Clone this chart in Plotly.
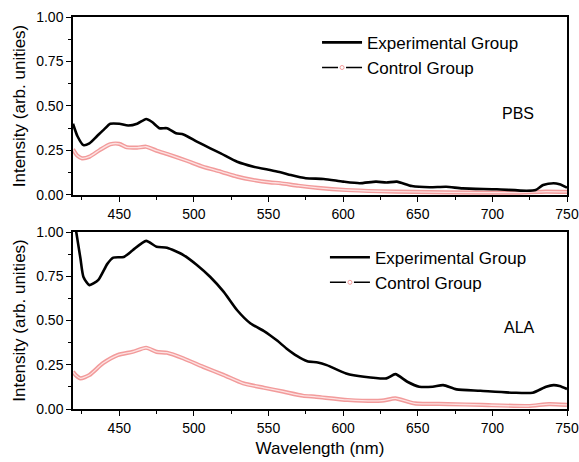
import plotly.graph_objects as go

# ---- PBS panel data ----
pbs_exp_wl = [419, 422, 426, 430, 435, 440, 444, 450, 456, 462, 468, 472, 477, 482, 488, 493,
              502, 511, 518, 529, 540, 551, 558, 565, 575, 587, 600, 611, 622, 629, 636, 646,
              658, 669, 680, 703, 723, 729, 734, 741, 745, 750]
pbs_exp_val = [0.40, 0.33, 0.28, 0.29, 0.33, 0.37, 0.40, 0.40, 0.39, 0.40, 0.427, 0.41, 0.375, 0.375, 0.347, 0.34,
               0.30, 0.262, 0.234, 0.187, 0.159, 0.14, 0.128, 0.112, 0.094, 0.09, 0.075, 0.066, 0.075, 0.07, 0.075, 0.05,
               0.043, 0.046, 0.037, 0.032, 0.024, 0.028, 0.056, 0.066, 0.06, 0.041]

pbs_ctl_wl = [419, 422, 425, 430, 437, 444, 450, 455, 462, 468, 475, 484, 495, 506, 518, 529,
              540, 551, 558, 570, 583, 602, 624, 647, 669, 714, 736, 750]
pbs_ctl_val = [0.257, 0.22, 0.206, 0.215, 0.253, 0.285, 0.287, 0.268, 0.266, 0.271, 0.249, 0.225, 0.193, 0.159, 0.131, 0.103,
               0.084, 0.071, 0.066, 0.052, 0.04, 0.028, 0.021, 0.017, 0.015, 0.013, 0.019, 0.017]

# ---- ALA panel data ----
ala_exp_wl = [419, 421, 424, 426, 430, 436, 442, 446, 453, 459, 468, 475, 482, 493, 502, 511,
              520, 529, 538, 547, 551, 556, 562, 569, 576, 583, 589, 602, 614, 629, 635, 643,
              651, 660, 667, 676, 692, 714, 727, 736, 741, 745, 750]
ala_exp_val = [1.12, 1.01, 0.85, 0.746, 0.70, 0.73, 0.82, 0.855, 0.859, 0.897, 0.95, 0.917, 0.911, 0.87, 0.814, 0.746,
               0.662, 0.558, 0.483, 0.44, 0.417, 0.385, 0.342, 0.30, 0.27, 0.263, 0.248, 0.201, 0.182, 0.173, 0.197, 0.154,
               0.126, 0.126, 0.135, 0.111, 0.103, 0.092, 0.092, 0.126, 0.135, 0.13, 0.113]

ala_ctl_wl = [419, 421, 424, 430, 439, 449, 459, 468, 475, 482, 493, 506, 520, 533, 547, 560,
              573, 582, 603, 626, 635, 648, 670, 693, 724, 738, 750]
ala_ctl_val = [0.21, 0.19, 0.173, 0.192, 0.258, 0.305, 0.323, 0.346, 0.323, 0.318, 0.286, 0.239, 0.192, 0.145, 0.12, 0.098,
               0.075, 0.069, 0.051, 0.047, 0.06, 0.032, 0.028, 0.023, 0.017, 0.028, 0.023]

series_names = ["Experimental Group", "Control Group"]
panel_labels = ["PBS", "ALA"]
x_title = "Wavelength (nm)"
y_title = "Intensity (arb. unities)"

FONT = "Liberation Sans, Arial, sans-serif"
PINK = "rgb(242,155,155)"
PINK_IN = "rgb(253,226,226)"

fig = go.Figure()

def add_panel(xa, ya, ew, ev, cw, cv, legend):
    fig.add_trace(go.Scatter(x=cw, y=cv, mode="lines", xaxis=xa, yaxis=ya,
                             line=dict(color=PINK, width=4.2, shape="spline", smoothing=0.6),
                             showlegend=False, hoverinfo="skip"))
    fig.add_trace(go.Scatter(x=cw, y=cv, mode="lines", xaxis=xa, yaxis=ya,
                             line=dict(color=PINK_IN, width=1.3, shape="spline", smoothing=0.6),
                             showlegend=False, hoverinfo="skip"))
    fig.add_trace(go.Scatter(x=ew, y=ev, mode="lines", xaxis=xa, yaxis=ya, name=series_names[0],
                             line=dict(color="black", width=2.6, shape="spline", smoothing=0.6),
                             legend=legend, showlegend=True))
    # legend entry for control group (Origin-style symbol)
    fig.add_trace(go.Scatter(x=[None], y=[None], mode="lines+markers", xaxis=xa, yaxis=ya,
                             name=series_names[1], legend=legend, showlegend=True,
                             line=dict(color="black", width=1.5, dash="16px,8px"),
                             marker=dict(symbol="circle-open", size=4, color=PINK, line=dict(width=1))))

add_panel("x", "y", pbs_exp_wl, pbs_exp_val, pbs_ctl_wl, pbs_ctl_val, "legend")
add_panel("x2", "y2", ala_exp_wl, ala_exp_val, ala_ctl_wl, ala_ctl_val, "legend2")

def xaxis(anchor, title=None):
    d = dict(range=[419, 750], tick0=450, dtick=50, ticks="outside", ticklen=5, tickwidth=1.3,
             tickcolor="black", showline=True, linecolor="black", linewidth=1.5, mirror=True,
             showgrid=False, zeroline=False, anchor=anchor, automargin=False,
             tickfont=dict(family=FONT, size=14, color="black"),
             minor=dict(dtick=25, tick0=425, ticks="outside", ticklen=3, tickcolor="black", tickwidth=1.2, showgrid=False))
    if title:
        d["title"] = dict(text=title, font=dict(family=FONT, size=17, color="black"), standoff=8)
    return d

def yaxis(anchor, domain):
    return dict(range=[0, 1], tick0=0, dtick=0.25, tickformat=".2f", ticks="outside", ticklen=5, tickwidth=1.3,
                tickcolor="black", showline=True, linecolor="black", linewidth=1.5, mirror=True,
                showgrid=False, zeroline=False, anchor=anchor, domain=domain, automargin=False,
                tickfont=dict(family=FONT, size=14, color="black"),
                title=dict(text=y_title, font=dict(family=FONT, size=17, color="black"), standoff=6),
                minor=dict(dtick=0.125, ticks="outside", ticklen=3, tickcolor="black", tickwidth=1.2, showgrid=False))

legend_style = dict(font=dict(family=FONT, size=17, color="black"), bgcolor="rgba(0,0,0,0)",
                    itemwidth=40, xanchor="left", yanchor="top", tracegroupgap=0)

fig.update_layout(
    width=579, height=462,
    margin=dict(l=73, r=12, t=17, b=53),
    paper_bgcolor="white", plot_bgcolor="white",
    xaxis=xaxis("y"),
    yaxis=yaxis("x", [0.546, 1.0]),
    xaxis2=xaxis("y2", x_title),
    yaxis2=yaxis("x2", [0.0, 0.4515]),
    legend=dict(x=0.494, y=0.98, **legend_style),
    legend2=dict(x=0.51, y=0.432, **legend_style),
    annotations=[
        dict(text=panel_labels[0], x=0.901, y=0.755, xref="paper", yref="paper", showarrow=False,
             xanchor="center", yanchor="middle", font=dict(family=FONT, size=16, color="black")),
        dict(text=panel_labels[1], x=0.903, y=0.207, xref="paper", yref="paper", showarrow=False,
             xanchor="center", yanchor="middle", font=dict(family=FONT, size=16, color="black")),
    ],
)

# remove the page's default 8px body margin so the figure fills the window exactly
fig.write_html("out.html", config={"displayModeBar": False},
               post_script="document.body.style.margin='0px';document.body.style.overflow='hidden';")
